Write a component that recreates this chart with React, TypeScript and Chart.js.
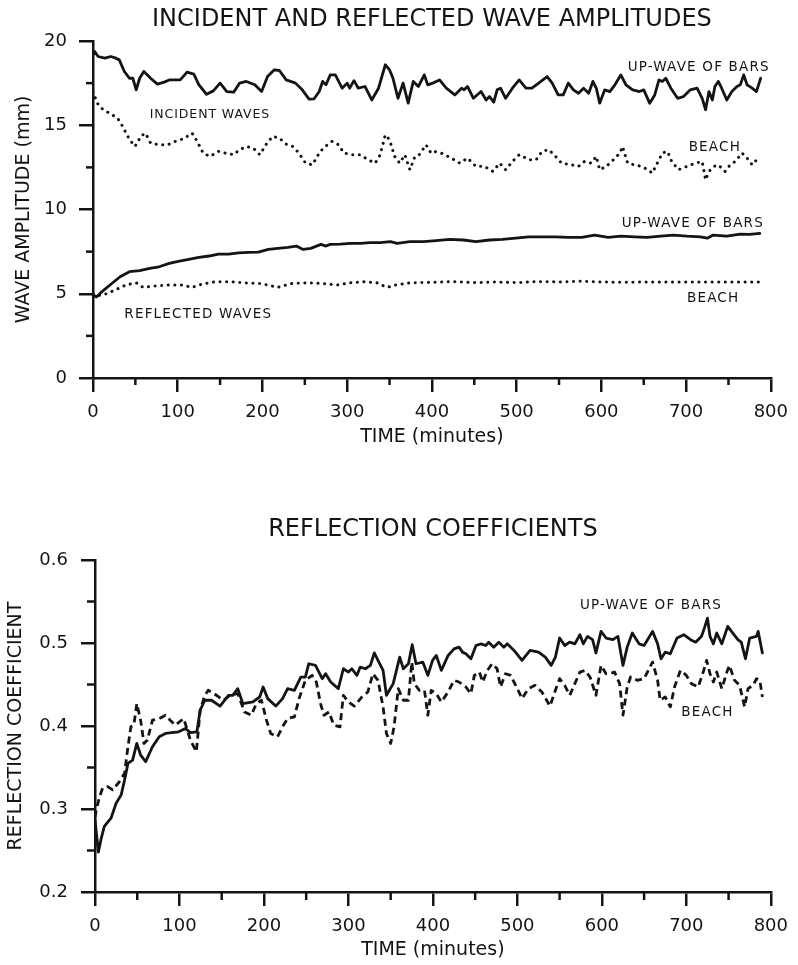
import React, { useEffect, useRef } from "react";
import { Chart, registerables } from "chart.js";

Chart.register(...registerables);

const INK = "#141414";
const FONT = "'DejaVu Sans', 'Liberation Sans', sans-serif";

// ---------- Top chart: incident & reflected wave amplitudes (mm) ----------
const incBarsTime = [0, 2, 6, 14, 21, 27, 31, 37, 43, 47, 51, 55, 60, 68, 76, 84, 90, 103, 111, 119, 125, 134, 142, 150, 158, 166, 173, 181, 191, 199, 206, 214, 220, 228, 239, 247, 255, 261, 267, 271, 275, 280, 286, 294, 300, 303, 308, 313, 321, 329, 337, 345, 350, 354, 360, 366, 372, 378, 384, 391, 395, 401, 409, 417, 427, 435, 438, 442, 449, 458, 464, 468, 473, 477, 481, 487, 495, 503, 511, 518, 526, 536, 542, 549, 555, 561, 567, 573, 579, 585, 590, 594, 598, 604, 610, 616, 623, 629, 637, 645, 650, 657, 663, 668, 672, 676, 682, 690, 697, 705, 713, 719, 723, 727, 731, 734, 738, 742, 748, 754, 760, 764, 768, 772, 778, 783, 788];
const incBarsAmp = [19.2, 19.38, 19.08, 18.98, 19.08, 18.98, 18.88, 18.19, 17.79, 17.79, 17.1, 17.79, 18.19, 17.79, 17.44, 17.56, 17.69, 17.69, 18.15, 18.03, 17.4, 16.84, 17.04, 17.5, 17.0, 16.96, 17.5, 17.6, 17.4, 17.0, 17.89, 18.29, 18.25, 17.69, 17.5, 17.1, 16.55, 16.57, 17.0, 17.6, 17.4, 17.99, 17.99, 17.2, 17.5, 17.2, 17.65, 17.2, 17.3, 16.5, 17.2, 18.59, 18.29, 17.79, 16.6, 17.5, 16.31, 17.6, 17.3, 17.99, 17.4, 17.5, 17.69, 17.2, 16.8, 17.2, 17.1, 17.3, 16.6, 17.0, 16.5, 16.7, 16.37, 17.1, 17.2, 16.6, 17.2, 17.69, 17.2, 17.2, 17.5, 17.89, 17.5, 16.8, 16.8, 17.5, 17.1, 16.9, 17.2, 16.9, 17.6, 17.2, 16.31, 17.1, 17.0, 17.4, 17.99, 17.4, 17.1, 17.0, 17.1, 16.31, 16.8, 17.69, 17.6, 17.79, 17.2, 16.6, 16.7, 17.1, 17.2, 16.6, 15.92, 17.0, 16.5, 17.3, 17.6, 17.2, 16.5, 17.0, 17.3, 17.4, 17.99, 17.4, 17.2, 17.0, 17.79];

const incBeachTime = [0, 5, 12, 20, 29, 35, 41, 49, 52, 56, 62, 68, 78, 88, 99, 107, 117, 123, 130, 138, 148, 156, 166, 173, 181, 189, 197, 204, 212, 220, 228, 236, 243, 251, 259, 267, 272, 282, 290, 296, 306, 315, 325, 333, 339, 345, 350, 356, 362, 368, 374, 380, 385, 393, 399, 402, 411, 423, 433, 442, 452, 462, 472, 480, 487, 495, 503, 515, 523, 530, 538, 546, 553, 565, 573, 580, 588, 594, 598, 606, 614, 622, 625, 631, 639, 647, 655, 660, 666, 672, 678, 683, 691, 701, 711, 719, 723, 727, 733, 738, 746, 752, 758, 766, 772, 778, 785];
const incBeachAmp = [17.0, 16.31, 15.92, 15.7, 15.42, 14.93, 14.34, 13.74, 13.9, 14.34, 14.53, 13.94, 13.84, 13.84, 14.08, 14.2, 14.53, 14.04, 13.35, 13.15, 13.45, 13.35, 13.25, 13.55, 13.74, 13.65, 13.25, 13.84, 14.34, 14.24, 13.88, 13.74, 13.35, 12.75, 12.65, 13.35, 13.65, 14.04, 13.84, 13.35, 13.25, 13.25, 12.95, 12.75, 13.25, 14.43, 14.14, 13.15, 12.75, 13.25, 12.36, 13.15, 13.25, 13.84, 13.35, 13.45, 13.35, 13.05, 12.75, 13.05, 12.56, 12.56, 12.26, 12.75, 12.36, 12.85, 13.25, 12.95, 12.95, 13.45, 13.55, 13.15, 12.75, 12.65, 12.56, 12.85, 12.75, 13.15, 12.36, 12.56, 12.95, 13.35, 13.74, 12.75, 12.65, 12.56, 12.36, 12.16, 12.75, 13.35, 13.45, 12.85, 12.36, 12.56, 12.75, 12.85, 11.76, 12.26, 12.56, 12.65, 12.26, 12.65, 12.85, 13.35, 13.05, 12.65, 13.05];

const refBarsTime = [0, 4, 10, 20, 32, 43, 55, 67, 78, 90, 102, 113, 125, 137, 148, 160, 172, 183, 195, 207, 218, 230, 240, 248, 257, 269, 275, 280, 292, 304, 316, 327, 339, 351, 359, 374, 390, 405, 421, 437, 452, 468, 483, 499, 514, 530, 546, 561, 577, 592, 608, 623, 639, 654, 670, 685, 701, 717, 725, 732, 748, 764, 775, 787];
const refBarsAmp = [4.95, 4.8, 5.1, 5.52, 6.01, 6.31, 6.37, 6.5, 6.6, 6.8, 6.94, 7.04, 7.16, 7.24, 7.35, 7.35, 7.43, 7.45, 7.47, 7.63, 7.69, 7.75, 7.83, 7.63, 7.69, 7.93, 7.83, 7.93, 7.95, 7.99, 7.99, 8.03, 8.03, 8.09, 7.99, 8.09, 8.09, 8.15, 8.23, 8.19, 8.09, 8.19, 8.23, 8.3, 8.38, 8.38, 8.38, 8.34, 8.34, 8.48, 8.34, 8.42, 8.38, 8.34, 8.42, 8.48, 8.42, 8.38, 8.3, 8.48, 8.42, 8.54, 8.52, 8.58];

const refBeachTime = [0, 8, 16, 26, 39, 51, 59, 73, 90, 105, 117, 129, 144, 164, 179, 199, 218, 234, 253, 273, 288, 304, 319, 335, 347, 357, 375, 400, 425, 450, 475, 500, 525, 550, 575, 600, 625, 650, 675, 700, 725, 750, 775, 789];
const refBeachAmp = [5.0, 4.9, 5.0, 5.22, 5.52, 5.65, 5.38, 5.46, 5.52, 5.52, 5.38, 5.58, 5.71, 5.71, 5.65, 5.6, 5.38, 5.6, 5.65, 5.6, 5.52, 5.65, 5.71, 5.65, 5.38, 5.52, 5.65, 5.68, 5.72, 5.66, 5.7, 5.66, 5.72, 5.7, 5.74, 5.7, 5.68, 5.7, 5.7, 5.7, 5.7, 5.7, 5.7, 5.7];

// ---------- Bottom chart: reflection coefficients ----------
const coefBarsTime = [0, 4, 7, 11, 19, 25, 31, 35, 39, 44.5, 49.5, 54, 60, 68, 76, 83.5, 91, 99, 107, 113, 120.6, 124.5, 130, 138, 148, 158, 163, 169, 175, 187, 195, 199, 204.5, 214, 222, 228, 236, 243.6, 249, 253, 261, 269, 273, 279, 288, 294, 300, 304, 310, 314, 320, 326, 330.6, 335, 341, 345, 353, 360.7, 365, 371, 375.5, 380, 388, 394, 399.6, 404, 410, 418, 425, 431, 435, 439, 445, 451, 457, 462.5, 466, 472, 478, 484, 488, 496, 505.5, 515, 525, 533, 540, 545, 550, 556, 562, 568, 574, 578, 583, 589, 593, 599, 605, 613, 619, 625, 630, 636, 644, 650, 660, 666, 670, 675, 681, 689, 697, 705, 711, 718, 722, 725, 728, 732, 736, 742, 749, 755, 761, 765, 770, 775, 783, 785, 790];
const coefBarsVal = [0.287, 0.248, 0.263, 0.279, 0.289, 0.307, 0.317, 0.335, 0.355, 0.359, 0.379, 0.365, 0.357, 0.375, 0.387, 0.391, 0.392, 0.393, 0.397, 0.392, 0.393, 0.419, 0.431, 0.431, 0.424, 0.437, 0.437, 0.445, 0.427, 0.429, 0.435, 0.447, 0.433, 0.424, 0.433, 0.445, 0.443, 0.459, 0.459, 0.475, 0.473, 0.457, 0.463, 0.453, 0.445, 0.469, 0.465, 0.469, 0.461, 0.471, 0.469, 0.473, 0.488, 0.479, 0.467, 0.437, 0.451, 0.483, 0.469, 0.475, 0.498, 0.475, 0.477, 0.461, 0.479, 0.485, 0.467, 0.485, 0.493, 0.495, 0.489, 0.487, 0.481, 0.497, 0.499, 0.497, 0.501, 0.495, 0.501, 0.495, 0.499, 0.491, 0.479, 0.491, 0.489, 0.483, 0.473, 0.483, 0.506, 0.497, 0.501, 0.499, 0.51, 0.499, 0.508, 0.504, 0.488, 0.514, 0.506, 0.504, 0.508, 0.473, 0.495, 0.512, 0.499, 0.497, 0.514, 0.499, 0.481, 0.489, 0.487, 0.506, 0.51, 0.504, 0.501, 0.508, 0.52, 0.53, 0.508, 0.499, 0.512, 0.499, 0.52, 0.512, 0.504, 0.501, 0.481, 0.506, 0.508, 0.514, 0.488];

const coefBeachTime = [0, 1.5, 5.5, 9, 15, 21, 29, 35, 39, 42.5, 46, 49.5, 54, 58, 62, 68, 76, 83.5, 89, 95, 105, 113, 120, 124.5, 130, 134, 141, 152, 160, 169, 177, 185, 191, 197, 203, 208, 216, 222, 228, 236, 241.6, 249, 257, 262, 267, 271, 277, 282.6, 290, 294, 300, 307, 316, 323, 329, 335, 341, 345, 350, 354, 359, 365, 371, 375, 378, 384, 390, 394, 398, 404, 410, 418, 425, 431, 439, 445, 449, 455, 459, 464.5, 470, 476, 480, 486, 492, 500, 505.5, 513, 521, 529, 538.6, 545, 550, 556, 562, 568, 574, 580, 586, 593, 599, 605, 609, 615, 621, 625, 630, 634, 642, 650, 660, 666, 669, 675, 681, 686, 693, 700, 706, 714, 720, 724, 728, 732, 736, 742, 748, 751, 757, 763, 769, 773, 779, 783, 787, 790];
const coefBeachVal = [0.29, 0.299, 0.315, 0.325, 0.327, 0.323, 0.333, 0.343, 0.375, 0.399, 0.401, 0.427, 0.407, 0.379, 0.383, 0.407, 0.409, 0.413, 0.407, 0.401, 0.409, 0.383, 0.369, 0.419, 0.437, 0.443, 0.439, 0.431, 0.437, 0.439, 0.417, 0.413, 0.427, 0.431, 0.407, 0.391, 0.387, 0.399, 0.409, 0.411, 0.433, 0.455, 0.461, 0.453, 0.427, 0.413, 0.417, 0.401, 0.399, 0.437, 0.429, 0.424, 0.435, 0.441, 0.463, 0.455, 0.423, 0.391, 0.379, 0.399, 0.445, 0.431, 0.431, 0.477, 0.451, 0.443, 0.443, 0.413, 0.443, 0.439, 0.429, 0.441, 0.455, 0.453, 0.447, 0.439, 0.461, 0.465, 0.453, 0.467, 0.475, 0.469, 0.447, 0.463, 0.461, 0.445, 0.433, 0.445, 0.449, 0.441, 0.424, 0.443, 0.457, 0.449, 0.437, 0.451, 0.465, 0.467, 0.459, 0.437, 0.473, 0.463, 0.463, 0.465, 0.451, 0.413, 0.447, 0.459, 0.455, 0.457, 0.477, 0.455, 0.431, 0.435, 0.423, 0.447, 0.467, 0.461, 0.451, 0.447, 0.465, 0.479, 0.463, 0.453, 0.465, 0.445, 0.465, 0.473, 0.455, 0.449, 0.423, 0.445, 0.449, 0.457, 0.455, 0.435];

// Axis ticks
const timeTicksMajor = [0, 100, 200, 300, 400, 500, 600, 700, 800];
const timeTicksMinor = [50, 150, 250, 350, 450, 550, 650, 750];
const ampMinorTicks = [2.5, 7.5, 12.5, 17.5];
const coefMinorTicks = [0.25, 0.35, 0.45, 0.55];

// In-plot labels: [text, time, value, fontSize]
const topLabels: [string, number, number, number][] = [
  ["UP-WAVE OF BARS", 631, 18.45, 13.5],
  ["INCIDENT WAVES", 67, 15.6, 12.5],
  ["BEACH", 703, 13.7, 13.5],
  ["UP-WAVE OF BARS", 624, 9.19, 13.5],
  ["BEACH", 701, 4.69, 13.5],
  ["REFLECTED WAVES", 37, 3.74, 13.5],
];
const bottomLabels: [string, number, number, number][] = [
  ["UP-WAVE OF BARS", 574, 0.5446, 13.5],
  ["BEACH", 694, 0.4157, 13.5],
];

const pts = (t: number[], v: number[]) => t.map((x, i) => ({ x, y: v[i] }));

function makeDecor(labels: [string, number, number, number][], minorX: number[], minorY: number[], minorLen: number) {
  return {
    id: "decor",
    afterDraw(chart: any) {
      const { ctx } = chart;
      const xs = chart.scales.x;
      const ys = chart.scales.y;
      ctx.save();
      ctx.strokeStyle = INK;
      ctx.lineWidth = 2.5;
      ctx.lineCap = "butt";
      for (const v of minorX) {
        const px = xs.getPixelForValue(v);
        ctx.beginPath();
        ctx.moveTo(px, ys.bottom);
        ctx.lineTo(px, ys.bottom + minorLen);
        ctx.stroke();
      }
      for (const v of minorY) {
        const py = ys.getPixelForValue(v);
        ctx.beginPath();
        ctx.moveTo(xs.left, py);
        ctx.lineTo(xs.left - minorLen, py);
        ctx.stroke();
      }
      ctx.fillStyle = INK;
      ctx.textAlign = "left";
      ctx.textBaseline = "middle";
      for (const [text, t, v, size] of labels) {
        ctx.font = `${size}px ${FONT}`;
        (ctx as any).letterSpacing = size < 13 ? "0.9px" : "1.2px";
        ctx.fillText(text, xs.getPixelForValue(t), ys.getPixelForValue(v));
      }
      (ctx as any).letterSpacing = "0px";
      ctx.restore();
    },
  };
}

function axisX(titlePadBottom: number, height: number) {
  return {
    type: "linear",
    min: 0,
    max: 800,
    afterBuildTicks(s: any) {
      s.ticks = timeTicksMajor.map((value) => ({ value }));
    },
    ticks: { font: { family: FONT, size: 18 }, color: INK, padding: 10, maxRotation: 0 },
    grid: { drawOnChartArea: false, drawTicks: true, tickLength: 14, color: INK, lineWidth: 2.5 },
    border: { display: true, color: INK, width: 2.5 },
    title: {
      display: true,
      text: "TIME (minutes)",
      font: { family: FONT, size: 19 },
      color: INK,
      padding: { top: 0, bottom: titlePadBottom },
    },
    afterFit(s: any) {
      s.height = height;
    },
  };
}

const lineDs = (label: string, data: any[], dash: number[], cap: string, width: number) => ({
  label,
  data,
  borderColor: INK,
  borderWidth: width,
  borderDash: dash,
  borderCapStyle: cap,
  borderJoinStyle: "round",
  pointRadius: 0,
  tension: 0,
  fill: false,
});

export default function App() {
  const topRef = useRef<HTMLCanvasElement>(null);
  const botRef = useRef<HTMLCanvasElement>(null);

  useEffect(() => {
    const top = new Chart(topRef.current as HTMLCanvasElement, {
      type: "line",
      data: {
        datasets: [
          lineDs("Incident, up-wave of bars", pts(incBarsTime, incBarsAmp), [], "round", 2.8),
          lineDs("Incident, beach", pts(incBeachTime, incBeachAmp), [0.1, 6.5], "round", 3),
          lineDs("Reflected, up-wave of bars", pts(refBarsTime, refBarsAmp), [], "round", 2.8),
          lineDs("Reflected, beach", pts(refBeachTime, refBeachAmp), [0.1, 6.5], "round", 3),
        ] as any,
      },
      options: {
        responsive: false,
        animation: false,
        layout: { padding: { left: 0, right: 20, top: 0, bottom: 0 } },
        plugins: {
          legend: { display: false },
          tooltip: { enabled: false },
          title: {
            display: true,
            fullSize: false,
            text: "INCIDENT AND REFLECTED WAVE AMPLITUDES",
            font: { family: FONT, size: 24, weight: "normal" },
            color: INK,
            padding: { top: 5.6, bottom: 6.6 },
          },
        },
        scales: {
          x: axisX(21.6, 92) as any,
          y: {
            type: "linear",
            min: 0,
            max: 20,
            ticks: { stepSize: 5, font: { family: FONT, size: 18 }, color: INK, padding: 12 },
            grid: { drawOnChartArea: false, drawTicks: true, tickLength: 14, color: INK, lineWidth: 2.5 },
            border: { display: true, color: INK, width: 2.5 },
            title: {
              display: true,
              text: "WAVE AMPLITUDE (mm)",
              font: { family: FONT, size: 19 },
              color: INK,
              padding: { top: 12.6, bottom: 0 },
            },
            afterFit(s: any) {
              s.width = 93;
            },
          } as any,
        },
      } as any,
      plugins: [makeDecor(topLabels, timeTicksMinor, ampMinorTicks, 7)],
    });

    const bot = new Chart(botRef.current as HTMLCanvasElement, {
      type: "line",
      data: {
        datasets: [
          lineDs("Up-wave of bars", pts(coefBarsTime, coefBarsVal), [], "round", 2.8),
          lineDs("Beach", pts(coefBeachTime, coefBeachVal), [7, 4.5], "butt", 2.8),
        ] as any,
      },
      options: {
        responsive: false,
        animation: false,
        layout: { padding: { left: 0, right: 20, top: 0, bottom: 0 } },
        plugins: {
          legend: { display: false },
          tooltip: { enabled: false },
          title: {
            display: true,
            fullSize: false,
            text: "REFLECTION COEFFICIENTS",
            font: { family: FONT, size: 24, weight: "normal" },
            color: INK,
            padding: { top: 35.6, bottom: 15.6 },
          },
        },
        scales: {
          x: axisX(3.6, 73) as any,
          y: {
            type: "linear",
            min: 0.2,
            max: 0.6,
            ticks: { stepSize: 0.1, font: { family: FONT, size: 18 }, color: INK, padding: 13 },
            grid: { drawOnChartArea: false, drawTicks: true, tickLength: 14, color: INK, lineWidth: 2.5 },
            border: { display: true, color: INK, width: 2.5 },
            title: {
              display: true,
              text: "REFLECTION COEFFICIENT",
              font: { family: FONT, size: 19 },
              color: INK,
              padding: { top: 4.6, bottom: 0 },
            },
            afterFit(s: any) {
              s.width = 95;
            },
          } as any,
        },
      } as any,
      plugins: [makeDecor(bottomLabels, timeTicksMinor, coefMinorTicks, 8)],
    });

    return () => {
      top.destroy();
      bot.destroy();
    };
  }, []);

  return (
    <div style={{ position: "absolute", left: 0, top: 0, width: 798, height: 965, background: "#fff" }}>
      <canvas ref={topRef} width={798} height={470} style={{ position: "absolute", left: 0, top: 0 }} />
      <canvas ref={botRef} width={798} height={485} style={{ position: "absolute", left: 0, top: 480 }} />
    </div>
  );
}
